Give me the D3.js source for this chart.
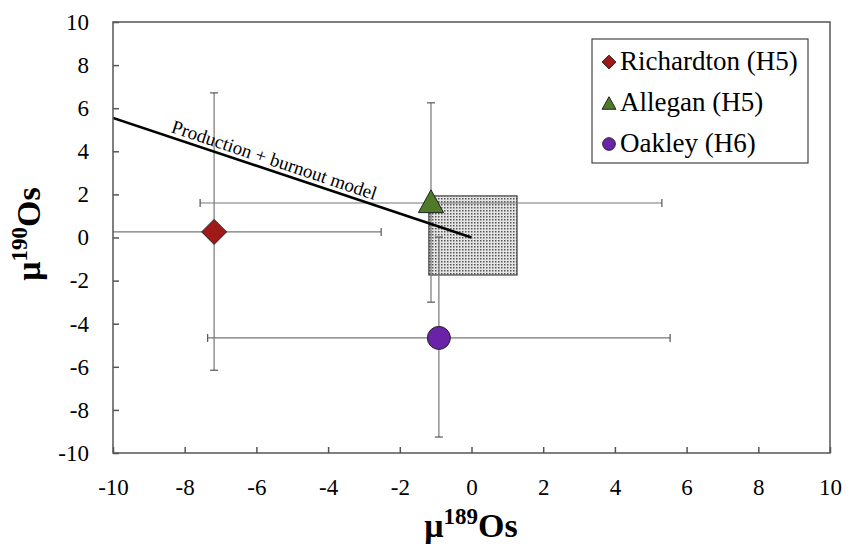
<!DOCTYPE html>
<html><head><meta charset="utf-8">
<script src="https://cdn.jsdelivr.net/npm/d3@7"></script>
</head><body style="margin:0">
<script>
const names = ["Richardton (H5)", "Allegan (H5)", "Oakley (H6)"];
const shapes = ["diamond", "triangle", "circle"];
const colors = ["#a01818", "#4f7a28", "#6a22a8"];
const xVals = [-7.18, -1.13, -0.91];
const yVals = [0.26, 1.6, -4.66];
const xErr = [4.66, 6.44, 6.45];
const yErrUp = [6.45, 4.65, 4.68];
const yErrDn = [6.42, 4.6, 4.6];
const modelX = [-10, 0];
const modelY = [5.55, 0];
const boxX = [-1.19, 1.27];
const boxY = [-1.74, 1.93];
const ticks = [-10, -8, -6, -4, -2, 0, 2, 4, 6, 8, 10];

const W = 848, H = 551;
const m = {l: 113, r: 18, t: 22, b: 98};
const font = "Liberation Serif";
const svg = d3.select("body").append("svg").attr("width", W).attr("height", H)
  .attr("font-family", font).style("display", "block");
const defs = svg.append("defs");
const pat = defs.append("pattern").attr("id", "dots").attr("patternUnits", "userSpaceOnUse").attr("width", 3).attr("height", 3);
pat.append("rect").attr("width", 3).attr("height", 3).attr("fill", "#e4e4e4");
pat.append("rect").attr("width", 1.5).attr("height", 1.5).attr("fill", "#555");
defs.append("clipPath").attr("id", "clip").append("rect")
  .attr("x", m.l).attr("y", m.t).attr("width", W - m.l - m.r).attr("height", H - m.t - m.b);

const x = d3.scaleLinear().domain([-10, 10]).range([m.l, W - m.r]);
const y = d3.scaleLinear().domain([-10, 10]).range([H - m.b, m.t]);

const g = svg.append("g").attr("clip-path", "url(#clip)");

// shaded box
g.append("rect").attr("x", x(boxX[0])).attr("y", y(boxY[1]))
  .attr("width", x(boxX[1]) - x(boxX[0])).attr("height", y(boxY[0]) - y(boxY[1]))
  .attr("fill", "url(#dots)").attr("stroke", "#444").attr("stroke-width", 1.2);

// error bars
const ec = "#777", cap = 4;
names.forEach((n, i) => {
  const cx = x(xVals[i]), cy = y(yVals[i]);
  const x0 = x(xVals[i] - xErr[i]), x1 = x(xVals[i] + xErr[i]);
  const y0 = y(yVals[i] + yErrUp[i]), y1 = y(yVals[i] - yErrDn[i]);
  g.append("line").attr("x1", x0).attr("x2", x1).attr("y1", cy).attr("y2", cy).attr("stroke", ec).attr("stroke-width", 1.2);
  g.append("line").attr("x1", cx).attr("x2", cx).attr("y1", y0).attr("y2", y1).attr("stroke", ec).attr("stroke-width", 1.2);
  [x0, x1].forEach(xx => g.append("line").attr("x1", xx).attr("x2", xx).attr("y1", cy - cap).attr("y2", cy + cap).attr("stroke", "#555").attr("stroke-width", 1.2));
  [y0, y1].forEach(yy => g.append("line").attr("x1", cx - cap).attr("x2", cx + cap).attr("y1", yy).attr("y2", yy).attr("stroke", "#555").attr("stroke-width", 1.2));
});

// model line
g.append("line").attr("x1", x(modelX[0])).attr("y1", y(modelY[0])).attr("x2", x(modelX[1])).attr("y2", y(modelY[1]))
  .attr("stroke", "#000").attr("stroke-width", 2.5);
const ang = Math.atan2(y(modelY[1]) - y(modelY[0]), x(modelX[1]) - x(modelX[0])) * 180 / Math.PI;
const lx = x(-8.4), ly = y(modelY[0] + (modelY[1] - modelY[0]) * ((-8.4 - modelX[0]) / (modelX[1] - modelX[0]))) - 5;
svg.append("text").attr("transform", `translate(${lx},${ly}) rotate(${ang})`)
  .attr("font-family", font).attr("font-size", 19).attr("fill", "#000").text("Production + burnout model");

// markers
function shapePath(s, r) {
  if (s === "diamond") return `M0,${-r}L${r},0L0,${r}L${-r},0Z`;
  if (s === "triangle") return `M0,${-r * 1.1}L${r * 1.05},${r * 0.8}L${-r * 1.05},${r * 0.8}Z`;
  return d3.arc()({innerRadius: 0, outerRadius: r, startAngle: 0, endAngle: 2 * Math.PI});
}
const radii = {diamond: 12.5, triangle: 12, circle: 11.5};
function marker(sel, i, cx, cy, scale) {
  sel.append("path").attr("d", shapePath(shapes[i], radii[shapes[i]] * scale))
    .attr("transform", `translate(${cx},${cy})`)
    .attr("fill", colors[i]).attr("stroke", "#222").attr("stroke-width", 1);
}
names.forEach((n, i) => marker(g, i, x(xVals[i]), y(yVals[i]), 1));

// frame
svg.append("rect").attr("x", m.l).attr("y", m.t).attr("width", W - m.l - m.r).attr("height", H - m.t - m.b)
  .attr("fill", "none").attr("stroke", "#555").attr("stroke-width", 1.5);

// axes
const fmt = d => String(d);
const xa = svg.append("g").attr("transform", `translate(0,${H - m.b})`)
  .call(d3.axisBottom(x).tickValues(ticks).tickSize(-6).tickFormat(fmt));
const ya = svg.append("g").attr("transform", `translate(${m.l},0)`)
  .call(d3.axisLeft(y).tickValues(ticks).tickSize(-6).tickFormat(fmt));
[xa, ya].forEach(a => {
  a.attr("font-family", font).attr("font-size", 23);
  a.select(".domain").remove();
  a.selectAll(".tick line").attr("stroke", "#555").attr("stroke-width", 1.5);
  a.selectAll("text").attr("fill", "#000");
});
xa.selectAll(".tick text").attr("dy", "0.71em").attr("y", 26);
ya.selectAll(".tick text").attr("x", -24);

// axis titles
const xt = svg.append("text").attr("x", 471).attr("y", 537).attr("text-anchor", "middle")
  .attr("font-family", font).attr("font-weight", "bold").attr("font-size", 34);
xt.append("tspan").text("μ");
xt.append("tspan").attr("font-size", 23).attr("dy", -13).text("189");
xt.append("tspan").attr("dy", 13).text("Os");
const yt = svg.append("text").attr("transform", "translate(40,234) rotate(-90)").attr("text-anchor", "middle")
  .attr("font-family", font).attr("font-weight", "bold").attr("font-size", 34);
yt.append("tspan").text("μ");
yt.append("tspan").attr("font-size", 23).attr("dy", -13).text("190");
yt.append("tspan").attr("dy", 13).text("Os");

// legend
const lg = svg.append("g");
lg.append("rect").attr("x", 592).attr("y", 39).attr("width", 216).attr("height", 124)
  .attr("fill", "#fff").attr("stroke", "#444").attr("stroke-width", 1.2);
names.forEach((n, i) => {
  const cy = 62 + i * 41;
  marker(lg, i, 609, cy + (shapes[i] === "triangle" ? 1 : 0), 0.55);
  lg.append("text").attr("x", 620).attr("y", cy + 8).attr("font-family", font).attr("font-size", 27)
    .attr("fill", "#000").text(n);
});
</script>
</body></html>
